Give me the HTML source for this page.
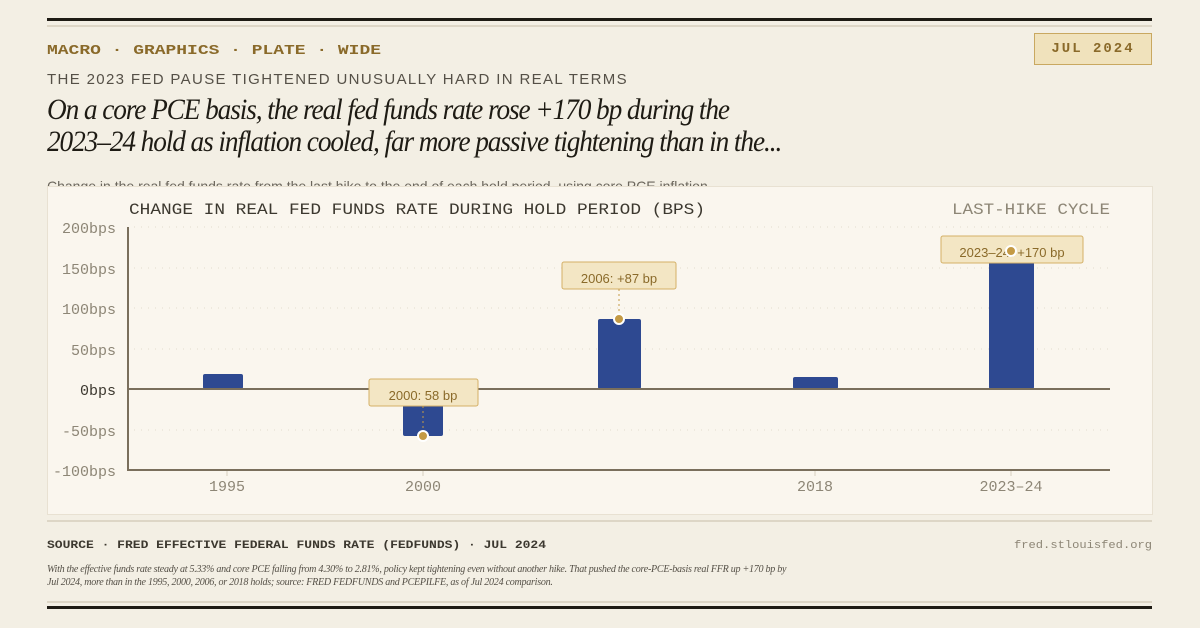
<!DOCTYPE html>
<html><head><meta charset="utf-8"><style>
body{margin:0;width:1200px;height:628px;background:#f3efe4;position:relative;overflow:hidden;font-family:"Liberation Sans",sans-serif}
.a{position:absolute;white-space:nowrap}
.mono{font-family:"Liberation Mono","DejaVu Sans Mono",monospace}
</style></head><body>
<div class="a" style="left:47px;top:18px;width:1105px;height:3px;background:#1e1b14"></div>
<div class="a" style="left:47px;top:25px;width:1105px;height:2px;background:#ddd6c6"></div>
<svg class="a" style="left:0;top:0" width="1200" height="628">
<text x="47" y="54" font-family="Liberation Mono,monospace" font-weight="bold" font-size="14" fill="#8a6a2a" textLength="334" lengthAdjust="spacingAndGlyphs">MACRO · GRAPHICS · PLATE · WIDE</text>
<text x="47" y="548" font-family="Liberation Mono,monospace" font-weight="bold" font-size="11" fill="#3c382f" textLength="499" lengthAdjust="spacingAndGlyphs">SOURCE · FRED EFFECTIVE FEDERAL FUNDS RATE (FEDFUNDS) · JUL 2024</text>
<text x="1152" y="548" text-anchor="end" font-family="Liberation Mono,monospace" font-size="11" fill="#8d8676" textLength="138" lengthAdjust="spacingAndGlyphs">fred.stlouisfed.org</text>
</svg>
<div class="a mono" style="left:1034px;top:33px;width:116px;height:30px;background:#f0e2bc;border:1px solid #c9a860;color:#8a6a2a;font-size:14px;font-weight:bold;letter-spacing:2px;text-align:center;line-height:30px">JUL 2024</div>
<div class="a" style="left:47px;top:71px;font-size:15px;color:#555047;letter-spacing:1.35px">THE 2023 FED PAUSE TIGHTENED UNUSUALLY HARD IN REAL TERMS</div>
<div class="a" style="left:47px;top:94px;font-family:'Liberation Serif',serif;font-style:italic;font-size:30px;line-height:32px;color:#1e1b14;letter-spacing:-1.2px;transform:scaleX(.91);transform-origin:left">On a core PCE basis, the real fed funds rate rose +170 bp during the<br>2023–24 hold as inflation cooled, far more passive tightening than in the...</div>
<div class="a" style="left:47px;top:178px;font-size:14px;color:#6b665c">Change in the real fed funds rate from the last hike to the end of each hold period, using core PCE inflation</div>
<div class="a" style="left:47px;top:186px;width:1104px;height:327px;background:#faf6ee;border:1px solid #e8e1d2"></div>
<svg class="a" style="left:0;top:0" width="1200" height="628">
<g font-family="Liberation Mono,monospace" font-size="15" fill="#8d8676" text-anchor="end">
<text x="116" y="233">200bps</text><text x="116" y="274">150bps</text><text x="116" y="314">100bps</text><text x="116" y="355">50bps</text><text x="116" y="395" fill="#3c382f">0bps</text><text x="116" y="436">-50bps</text><text x="116" y="476">-100bps</text>
</g>
<g stroke="#e3dccd" stroke-dasharray="1 6">
<line x1="134" x2="1110" y1="227" y2="227"/><line x1="134" x2="1110" y1="268" y2="268"/><line x1="134" x2="1110" y1="308" y2="308"/><line x1="134" x2="1110" y1="349" y2="349"/><line x1="134" x2="1110" y1="430" y2="430"/>
</g>
<text x="129" y="214" font-family="Liberation Mono,monospace" font-size="16" fill="#3c382f" textLength="576" lengthAdjust="spacingAndGlyphs">CHANGE IN REAL FED FUNDS RATE DURING HOLD PERIOD (BPS)</text>
<text x="952" y="214" font-family="Liberation Mono,monospace" font-size="16" fill="#8d8676" textLength="158" lengthAdjust="spacingAndGlyphs">LAST-HIKE CYCLE</text>
<g fill="#2e4991">
<rect x="203" y="374" width="40" height="15" rx="2"/>
<rect x="403" y="389" width="40" height="47" rx="2"/>
<rect x="598" y="319" width="43" height="70" rx="2"/>
<rect x="793" y="377" width="45" height="12" rx="2"/>
<rect x="989" y="251" width="45" height="138" rx="2"/>
</g>
<line x1="128" x2="1110" y1="389" y2="389" stroke="#7a6f5c" stroke-width="2"/>
<line x1="128" x2="1110" y1="470" y2="470" stroke="#7a6f5c" stroke-width="2"/>
<line x1="128" x2="128" y1="227" y2="471" stroke="#7a6f5c" stroke-width="2"/>
<g stroke="#d6cfbf"><line x1="227" x2="227" y1="471" y2="476"/><line x1="423" x2="423" y1="471" y2="476"/><line x1="815" x2="815" y1="471" y2="476"/><line x1="1011" x2="1011" y1="471" y2="476"/></g>
<g font-family="Liberation Mono,monospace" font-size="15" fill="#8d8676" text-anchor="middle">
<text x="227" y="491">1995</text><text x="423" y="491">2000</text><text x="815" y="491">2018</text><text x="1011" y="491">2023–24</text></g>
<g font-size="13" fill="#8a6a2a" text-anchor="middle">
<rect x="369" y="379" width="109" height="27" rx="2" fill="#f3e6c4" stroke="#d4b066"/>
<text x="423" y="400">2000: 58 bp</text>
<line x1="423" y1="406" x2="423" y2="432" stroke="#c49a45" stroke-dasharray="2 3"/>
<circle cx="423" cy="436" r="5" fill="#c49a45" stroke="#fff" stroke-width="2"/>
<rect x="562" y="262" width="114" height="27" rx="2" fill="#f3e6c4" stroke="#d4b066"/>
<text x="619" y="283">2006: +87 bp</text>
<line x1="619" y1="289" x2="619" y2="315" stroke="#c49a45" stroke-dasharray="2 3"/>
<circle cx="619" cy="319" r="5" fill="#c49a45" stroke="#fff" stroke-width="2"/>
<rect x="941" y="236" width="142" height="27" rx="2" fill="#f3e6c4" stroke="#d4b066"/>
<text x="1012" y="257">2023–24: +170 bp</text>
<circle cx="1011" cy="251" r="5" fill="#c49a45" stroke="#fff" stroke-width="2"/>
</g>
</svg>
<div class="a" style="left:47px;top:520px;width:1105px;height:2px;background:#ddd6c6"></div>
<div class="a" style="left:47px;top:563px;font-family:'Liberation Serif',serif;font-style:italic;font-size:11px;line-height:13px;color:#555047;letter-spacing:-.3px;transform:scaleX(.915);transform-origin:left">With the effective funds rate steady at 5.33% and core PCE falling from 4.30% to 2.81%, policy kept tightening even without another hike. That pushed the core-PCE-basis real FFR up +170 bp by<br>Jul 2024, more than in the 1995, 2000, 2006, or 2018 holds; source: FRED FEDFUNDS and PCEPILFE, as of Jul 2024 comparison.</div>
<div class="a" style="left:47px;top:601px;width:1105px;height:2px;background:#ddd6c6"></div>
<div class="a" style="left:47px;top:606px;width:1105px;height:3px;background:#1e1b14"></div>
</body></html>
